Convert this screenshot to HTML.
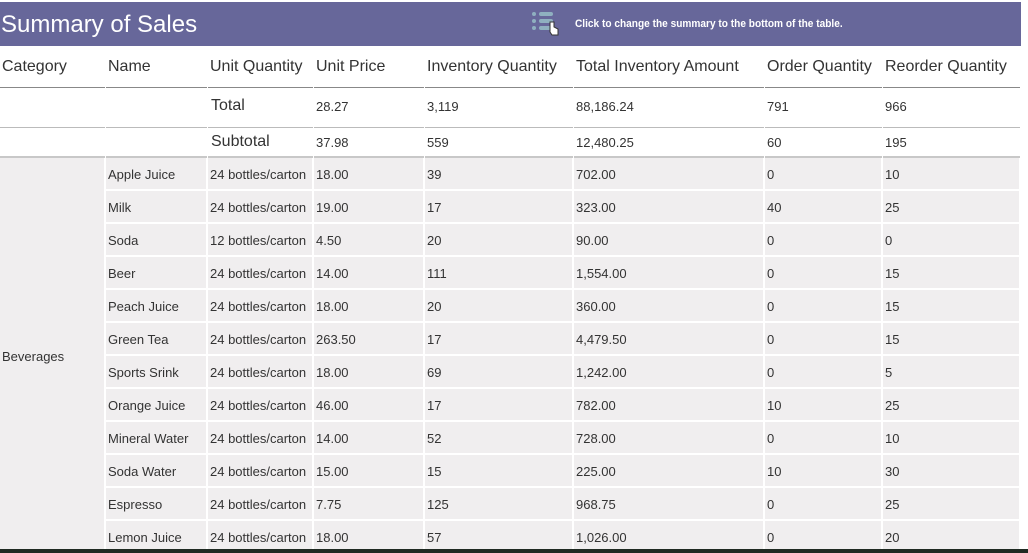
<!DOCTYPE html>
<html><head><meta charset="utf-8">
<style>
body{margin:0;width:1028px;height:553px;overflow:hidden;background:#fff;font-family:"Liberation Sans",sans-serif;position:relative}
.a{position:absolute;box-sizing:border-box}
.t{position:absolute;white-space:nowrap;color:#333}
</style></head><body>
<div class="a" style="left:0;top:2px;width:1021px;height:44px;background:#67679a"></div>
<div class="t" style="left:1px;top:11px;font-size:24px;color:#fff">Summary of Sales</div>
<svg class="a" style="left:530px;top:10px" width="34" height="28">
<g fill="#8fb0c0"><rect x="2" y="2" width="4" height="4" rx="2"/><rect x="2" y="9" width="4" height="4" rx="2"/><rect x="2" y="16" width="4" height="4" rx="2"/>
<rect x="9" y="2" width="14" height="4" rx="2"/><rect x="9" y="9" width="14" height="4" rx="2"/><rect x="9" y="16" width="12" height="4" rx="2"/></g>
<path d="M20 12v10l2 3h6v-6l-4-2v-5z" fill="#fff" stroke="#333" stroke-width="1"/></svg>
<div class="t" style="left:575px;top:18px;font-size:11px;color:#fff;font-weight:bold;transform:scaleX(.92);transform-origin:left">Click to change the summary to the bottom of the table.</div>
<div id="tbl"></div>
<div class="a" style="left:0;top:549px;width:1028px;height:4px;background:#1f2a22"></div>
<script>
const headers=["Category","Name","Unit Quantity","Unit Price","Inventory Quantity","Total Inventory Amount","Order Quantity","Reorder Quantity"];
const totalRow=["","","Total","28.27","3,119","88,186.24","791","966"];
const subtotalRow=["","","Subtotal","37.98","559","12,480.25","60","195"];
const names=["Apple Juice","Milk","Soda","Beer","Peach Juice","Green Tea","Sports Srink","Orange Juice","Mineral Water","Soda Water","Espresso","Lemon Juice"];
const units=["24 bottles/carton","24 bottles/carton","12 bottles/carton","24 bottles/carton","24 bottles/carton","24 bottles/carton","24 bottles/carton","24 bottles/carton","24 bottles/carton","24 bottles/carton","24 bottles/carton","24 bottles/carton"];
const prices=["18.00","19.00","4.50","14.00","18.00","263.50","18.00","46.00","14.00","15.00","7.75","18.00"];
const invQty=["39","17","20","111","20","17","69","17","52","15","125","57"];
const invAmt=["702.00","323.00","90.00","1,554.00","360.00","4,479.50","1,242.00","782.00","728.00","225.00","968.75","1,026.00"];
const orderQty=["0","40","0","0","0","0","0","10","0","10","0","0"];
const reorderQty=["10","25","0","15","15","15","5","25","10","30","25","20"];
const X=[0,106,208,314,425,574,765,883,1021];
const T=document.getElementById('tbl');
function box(x,y,w,h,bg,name){const d=document.createElement('div');d.className='a';d.style.cssText=`left:${x}px;top:${y}px;width:${w}px;height:${h}px;background:${bg}`;


T.appendChild(d);return d;}
function txt(x,y,s,fs,name){const d=document.createElement('div');d.className='t';d.style.cssText=`left:${x}px;top:${y}px;font-size:${fs}px`;d.textContent=s;


T.appendChild(d);}
for(let c=0;c<8;c++){
  const w=X[c+1]-X[c]-2;
  txt(X[c]+2,58,headers[c],16,'header-cell');
  box(X[c],87,w+1,1,'#888','header-line');
  txt(X[c]+(c==2?3:2),c==2?97:99,totalRow[c],c==2?16:13,'total-cell');
  box(X[c],127,w+1,1,'#bbb','total-line');
  txt(X[c]+(c==2?3:2),c==2?133:135,subtotalRow[c],c==2?16:13,'subtotal-cell');
  box(X[c],156,w+1,2,'#c8c8c8','subtotal-line');
}
box(0,158,104,391,'#f0eeef','category-cell');
txt(2,349,'Beverages',13,'category-label');
const cols=[names,units,prices,invQty,invAmt,orderQty,reorderQty];
for(let i=0;i<names.length;i++){
  const y=158+33*i;
  for(let c=0;c<7;c++){
    box(X[c+1],y,X[c+2]-X[c+1]-2,31,'#f0eeef','data-cell');
    txt(X[c+1]+2,y+9,cols[c][i],13,'data-text');
  }
}
</script>
</body></html>
